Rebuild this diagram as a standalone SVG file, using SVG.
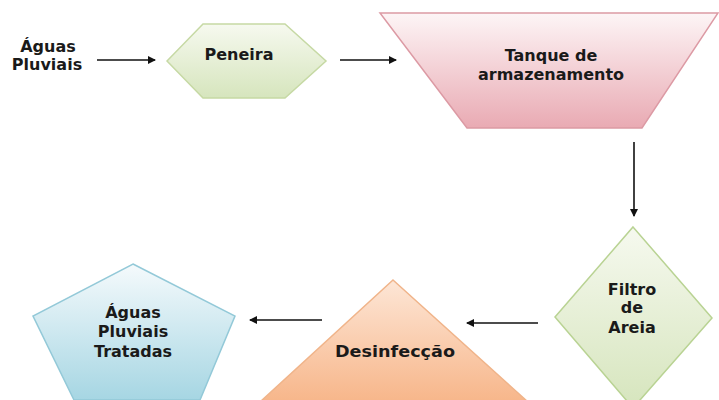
<svg xmlns="http://www.w3.org/2000/svg" width="719" height="400" viewBox="0 0 719 400">
<style>
text{font-family:"DejaVu Sans","Verdana",sans-serif;font-weight:bold;font-size:16px;fill:#1a1a1a;text-anchor:middle}
.conn line{stroke:#111;stroke-width:1.6}
</style>
<defs>
<marker id="ah" markerWidth="8" markerHeight="8" refX="7" refY="4" orient="auto" markerUnits="userSpaceOnUse"><path d="M0,0 L8,4 L0,8 Z" fill="#111"/></marker>
<linearGradient id="gGreen" x1="0" y1="0" x2="0" y2="1"><stop offset="0" stop-color="#f6f9ef"/><stop offset="1" stop-color="#d6e5bd"/></linearGradient>
<linearGradient id="gPink" x1="0" y1="0" x2="0" y2="1"><stop offset="0" stop-color="#fdf5f6"/><stop offset="1" stop-color="#e9aab3"/></linearGradient>
<linearGradient id="gOrange" x1="0" y1="0" x2="0" y2="1"><stop offset="0" stop-color="#fde6d6"/><stop offset="1" stop-color="#f7b68a"/></linearGradient>
<linearGradient id="gBlue" x1="0" y1="0" x2="0" y2="1"><stop offset="0" stop-color="#f5fafc"/><stop offset="1" stop-color="#a6d6e3"/></linearGradient>
</defs>
<g id="aguas-pluviais"><text x="48" y="52">Águas</text><text x="47" y="70">Pluviais</text></g>
<g id="peneira"><polygon points="167,61 203,24 285,24 326,61 285,98 203,98" fill="url(#gGreen)" stroke="#c6d9a4" stroke-width="1.5"/><text x="239" y="60">Peneira</text></g>
<g id="tanque"><polygon points="380,13 718,13 642,128 467,128" fill="url(#gPink)" stroke="#dc9aa4" stroke-width="1.5"/><text x="551" y="61">Tanque de</text><text x="551" y="80">armazenamento</text></g>
<g id="filtro"><polygon points="633,227 712,318 633,408 555,317" fill="url(#gGreen)" stroke="#b9d393" stroke-width="1.5"/><text x="632" y="295">Filtro</text><text x="632" y="313">de</text><text x="632" y="333">Areia</text></g>
<g id="desinfeccao"><polygon points="393,280 528,402 260,402" fill="url(#gOrange)" stroke="#f0b48a" stroke-width="1.5"/><text x="395" y="357" textLength="120" lengthAdjust="spacingAndGlyphs">Desinfecção</text></g>
<g id="tratadas"><polygon points="133,264 235,316 200,400 74,400 33,316" fill="url(#gBlue)" stroke="#93c9d8" stroke-width="1.5"/><text x="133" y="318">Águas</text><text x="133" y="337">Pluviais</text><text x="133" y="357">Tratadas</text></g>
<g class="conn" id="connectors">
<line x1="97" y1="60" x2="155" y2="60" marker-end="url(#ah)"/>
<line x1="340" y1="60" x2="396" y2="60" marker-end="url(#ah)"/>
<line x1="634" y1="142" x2="634" y2="216" marker-end="url(#ah)"/>
<line x1="538" y1="323" x2="467" y2="323" marker-end="url(#ah)"/>
<line x1="322" y1="320" x2="250" y2="320" marker-end="url(#ah)"/>
</g>
</svg>
